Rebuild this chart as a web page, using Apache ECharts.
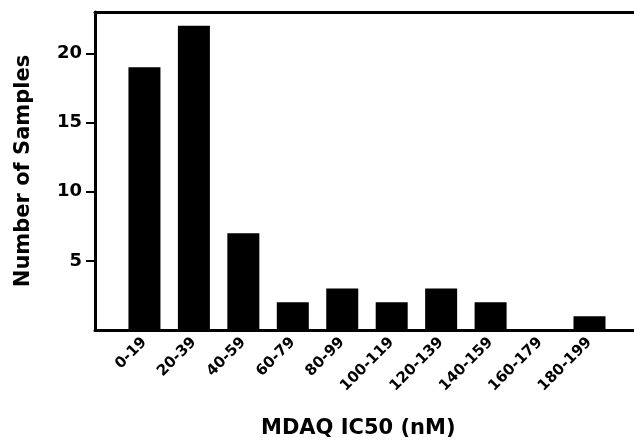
<!DOCTYPE html>
<html>
<head>
<meta charset="utf-8">
<script src="https://cdn.jsdelivr.net/npm/echarts@6/dist/echarts.min.js"></script>
<style>
  html, body { margin: 0; padding: 0; background: #fff; }
  #chart { width: 634px; height: 444px; }
</style>
</head>
<body>
<div id="chart"></div>
<script>
// MDAQ IC50 histogram
var binLabels = ['0-19', '20-39', '40-59', '60-79', '80-99', '100-119', '120-139', '140-159', '160-179', '180-199'];
var sampleCounts = [19, 22, 7, 2, 3, 2, 3, 2, 0, 1];
var yTicks = [5, 10, 15, 20];

var fontFam = '"DejaVu Sans", "Liberation Sans", Arial, sans-serif';
var chart = echarts.init(document.getElementById('chart'));

var barData = [];
var binPos = [];
for (var i = 0; i < binLabels.length; i++) {
    binPos.push(i + 1);
    barData.push([i + 1, sampleCounts[i]]);
}

chart.setOption({
    animation: false,
    title: {
        text: 'MDAQ IC50 (nM)',
        left: 256,
        top: 413,
        textStyle: { fontFamily: fontFam, fontSize: 21, fontWeight: 'bold', color: '#000' }
    },
    grid: { left: 95, right: 0, top: 12, bottom: 114 },
    xAxis: [
        {
            type: 'value',
            min: 0,
            max: 10.9,
            position: 'bottom',
            splitLine: { show: false },
            axisLine: { show: true, lineStyle: { color: '#000', width: 3 } },
            axisTick: { show: false },
            axisLabel: {
                customValues: binPos,
                rotate: 45,
                margin: 10,
                color: '#000',
                fontFamily: fontFam,
                fontSize: 15,
                fontWeight: 'bold',
                formatter: function (v) { return binLabels[v - 1] || ''; }
            }
        },
        {
            type: 'value',
            min: 0,
            max: 10.9,
            position: 'top',
            splitLine: { show: false },
            axisLine: { show: true, lineStyle: { color: '#000', width: 3 } },
            axisTick: { show: false },
            axisLabel: { show: false }
        }
    ],
    yAxis: {
        type: 'value',
        min: 0,
        max: 23,
        name: 'Number of Samples',
        nameLocation: 'middle',
        nameGap: 61,
        nameTextStyle: { fontFamily: fontFam, fontSize: 21, fontWeight: 'bold', color: '#000' },
        splitLine: { show: false },
        axisLine: { show: true, lineStyle: { color: '#000', width: 3 } },
        axisTick: { show: true, customValues: yTicks, length: 9, lineStyle: { color: '#000', width: 2 } },
        axisLabel: {
            customValues: yTicks,
            margin: 13,
            color: '#000',
            fontFamily: fontFam,
            fontSize: 18,
            fontWeight: 'bold'
        }
    },
    series: [
        {
            type: 'bar',
            xAxisIndex: 0,
            barWidth: 32,
            itemStyle: { color: '#000' },
            data: barData
        }
    ]
});
</script>
</body>
</html>
